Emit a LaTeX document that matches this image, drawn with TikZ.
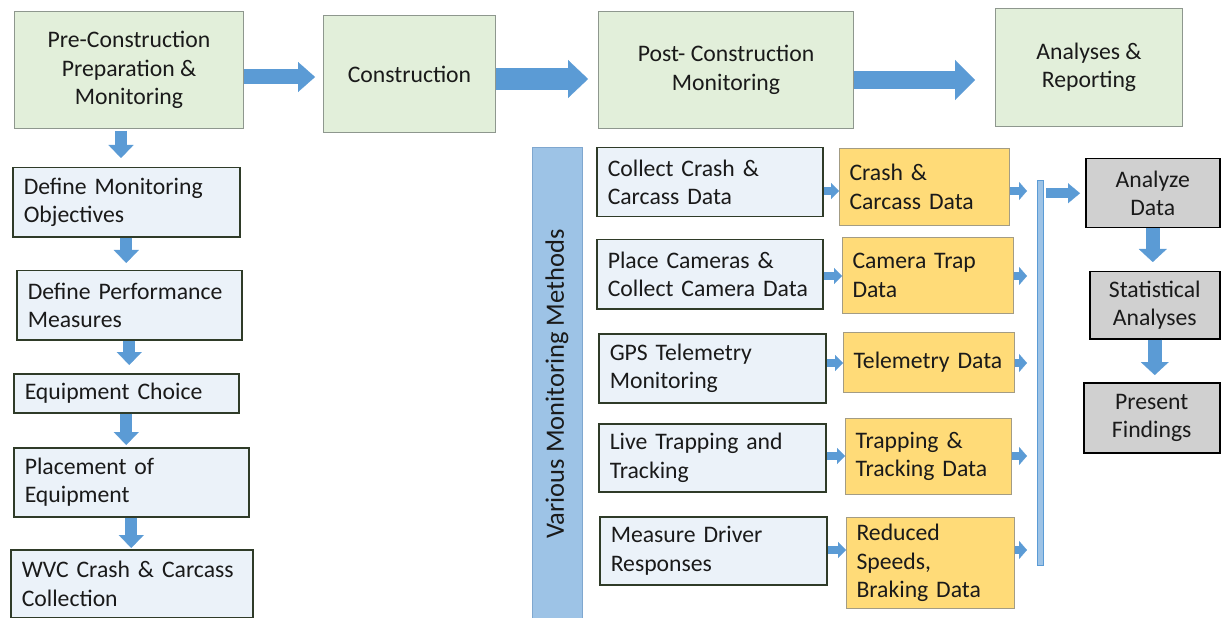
\documentclass[tikz,border=0pt]{standalone}
\usepackage{fontspec}
\setmainfont{Carlito}
\usetikzlibrary{arrows.meta}
\definecolor{arrowblue}{HTML}{5B9BD5}
\definecolor{greenfill}{HTML}{E2EFDA}
\definecolor{greenborder}{HTML}{8E978E}
\definecolor{bluefill}{HTML}{EBF2F9}
\definecolor{blueborder}{HTML}{2F3B28}
\definecolor{yellowfill}{HTML}{FFDB78}
\definecolor{yellowborder}{HTML}{A39C84}
\definecolor{grayfill}{HTML}{D0D0D0}
\definecolor{sidefill}{HTML}{9DC3E6}
\definecolor{sideborder}{HTML}{7FA7CF}
\definecolor{textcol}{HTML}{1A1A1A}
\begin{document}
\begin{tikzpicture}[x=1bp,y=-1bp,
  font=\fontsize{23.7bp}{28.5bp}\selectfont,
  every node/.style={anchor=north west, text=textcol},
  greenbox/.style={draw=greenborder, fill=greenfill, line width=1bp, align=center, inner sep=0pt},
  bluebox/.style={draw=blueborder, fill=bluefill, line width=1.5bp, align=left, inner xsep=11bp, inner ysep=0pt},
  yellowbox/.style={draw=yellowborder, fill=yellowfill, line width=1bp, align=left, inner xsep=10bp, inner ysep=0pt},
  graybox/.style={draw=black, fill=grayfill, line width=1.5bp, align=center, inner sep=0pt},
  sidebar/.style={draw=sideborder, fill=sidefill, line width=1bp, inner sep=0pt},
  blk/.style n args={3}{draw=arrowblue, line width=#1, -{Triangle[width=#2,length=#3,line width=0.1bp]}},
  sz/.style 2 args={minimum width=#1bp, minimum height=#2bp}
]
\useasboundingbox (0,0) rectangle (1221,618);

% top row
\node[greenbox, sz={229}{117}] (pre) at (14,11) {Pre-Construction\\Preparation \&\\Monitoring};
\node[greenbox, sz={172}{117}] (con) at (323,15) {Construction};
\node[greenbox, sz={255}{117}] (post) at (598,11) {Post- Construction\\Monitoring};
\node[greenbox, sz={187}{118}] (ana) at (995,8) {Analyses \&\\Reporting};

% left column
\node[bluebox, sz={227}{69}, text width=205bp] (dmo) at (12,167) {Define Monitoring\\Objectives};
\node[bluebox, sz={225}{69}, text width=203bp] (dpm) at (16,270) {Define Performance\\Measures};
\node[bluebox, sz={225}{39}, text width=203bp] (eqc) at (13,373) {Equipment Choice};
\node[bluebox, sz={235}{69}, text width=213bp] (plc) at (13,447) {Placement of\\Equipment};
\node[bluebox, sz={242}{68}, text width=220bp] (wvc) at (10,549) {WVC Crash \& Carcass\\Collection};

% side label
\node[sidebar, sz={50}{471}] (side) at (532,147) {};
\node[anchor=center, rotate=90, inner sep=0pt, font=\fontsize{26.5bp}{30bp}\selectfont] (sidetxt) at (557,384) {Various Monitoring Methods};

% monitoring methods
\node[bluebox, sz={226}{69}, text width=204bp] (b1) at (596,147) {Collect Crash \&\\Carcass Data};
\node[bluebox, sz={226}{69}, text width=204bp] (b2) at (596,239) {Place Cameras \&\\Collect Camera Data};
\node[bluebox, sz={227}{69}, text width=205bp] (b3) at (598,333) {GPS Telemetry\\Monitoring};
\node[bluebox, sz={227}{68}, text width=205bp] (b4) at (598,423) {Live Trapping and\\Tracking};
\node[bluebox, sz={227}{68}, text width=205bp] (b5) at (599,516) {Measure Driver\\Responses};

% data boxes
\node[yellowbox, sz={170}{77}, text width=150bp] (y1) at (839,148) {Crash \&\\Carcass Data};
\node[yellowbox, sz={171}{76}, text width=151bp] (y2) at (842,237) {Camera Trap\\Data};
\node[yellowbox, sz={171}{60}, text width=151bp] (y3) at (843,332) {Telemetry Data};
\node[yellowbox, sz={166}{76}, text width=146bp] (y4) at (845,418) {Trapping \&\\Tracking Data};
\node[yellowbox, sz={168}{91}, text width=148bp] (y5) at (846,517) {Reduced\\Speeds,\\Braking Data};

% collector bar
\node[draw=arrowblue, fill=sidefill, line width=1bp, inner sep=0pt, sz={6}{385}] (vbar) at (1037,180) {};

% analysis boxes
\node[graybox, sz={134}{69}] (g1) at (1085,158) {Analyze\\Data};
\node[graybox, sz={130}{67}] (g2) at (1089,271) {Statistical\\Analyses};
\node[graybox, sz={136}{70}] (g3) at (1083,382) {Present\\Findings};

% row levels
\coordinate (t1) at (0,77);
\coordinate (t2) at (0,79);
\coordinate (t3) at (0,80);
\coordinate (r1) at (0,191);
\coordinate (r2) at (0,276);
\coordinate (r3) at (0,363);
\coordinate (r4) at (0,456);
\coordinate (r5) at (0,550);
\coordinate (c0) at (121,0);

% top arrows
\draw[blk={15bp}{30bp}{17bp}, shorten >=8bp] (pre.east |- t1) -- (con.west |- t1);
\draw[blk={22bp}{38bp}{20bp}, shorten >=10bp] (con.east |- t2) -- (post.west |- t2);
\draw[blk={18bp}{40bp}{20bp}, shorten >=20bp] (post.east |- t3) -- (ana.west |- t3);

% left column arrows
\draw[blk={12bp}{25bp}{13bp}, shorten <=2bp, shorten >=9bp] (pre.south -| c0) -- (dmo.north -| c0);
\draw[blk={12bp}{25bp}{13bp}, shorten >=7bp] (dmo.south) -- (dmo.south |- dpm.north);
\draw[blk={12bp}{25bp}{13bp}, shorten >=8bp] (dpm.south) -- (dpm.south |- eqc.north);
\draw[blk={12bp}{25bp}{13bp}, shorten >=2bp] (eqc.south) -- (eqc.south |- plc.north);
\draw[blk={12bp}{25bp}{13bp}, shorten >=1bp] (plc.south) -- (plc.south |- wvc.north);

% method -> data arrows
\foreach \i in {1,...,5}{
  \draw[blk={8bp}{16bp}{8bp}] (b\i.east |- r\i) -- (y\i.west |- r\i);
  \draw[blk={8bp}{18bp}{8bp}, shorten >=10bp] (y\i.east |- r\i) -- (vbar.west |- r\i);
}

% bar -> analyze
\draw[blk={10bp}{20bp}{12bp}, shorten <=2bp, shorten >=5bp] (vbar.east |- g1.west) -- (g1.west);
\draw[blk={14bp}{28bp}{13bp}, shorten >=9bp] (g1.south) -- (g1.south |- g2.north);
\draw[blk={14bp}{28bp}{13bp}, shorten >=7bp] (g2.south) -- (g2.south |- g3.north);
\end{tikzpicture}
\end{document}
